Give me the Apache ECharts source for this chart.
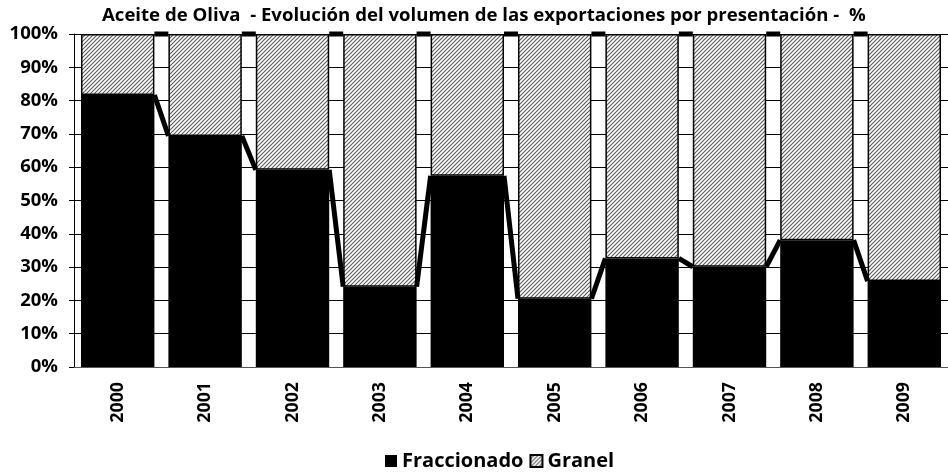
<!DOCTYPE html>
<html>
<head>
<meta charset="utf-8">
<script src="https://cdn.jsdelivr.net/npm/echarts@6/dist/echarts.min.js"></script>
<style>
  html, body { margin: 0; padding: 0; background: #fff; }
  #chart { width: 948px; height: 472px; }
</style>
</head>
<body>
<div id="chart"></div>
<script>
  // datos (% del volumen exportado)
  var years = ['2000', '2001', '2002', '2003', '2004', '2005', '2006', '2007', '2008', '2009']
  var fraccionado = [81.7, 69.4, 59.2, 24.1, 57.4, 20.5, 32.6, 30.1, 38.1, 25.8]
  var granel = [18.3, 30.6, 40.8, 75.9, 42.6, 79.5, 67.4, 69.9, 61.9, 74.2]

  var FONT = '"Open Sans", Lato, sans-serif'
  var BAR_FRAC = 0.84 // ancho de barra / ancho de categoria

  // trama rayada para Granel
  function hatch() {
    var s = 4
    var c = document.createElement('canvas')
    c.width = s
    c.height = s
    var ctx = c.getContext('2d')
    ctx.fillStyle = '#fff'
    ctx.fillRect(0, 0, s, s)
    ctx.strokeStyle = '#5a5a5a'
    ctx.lineWidth = 1.1
    ctx.beginPath()
    ctx.moveTo(0, s); ctx.lineTo(s, 0)
    ctx.moveTo(-1, 1); ctx.lineTo(1, -1)
    ctx.moveTo(s - 1, s + 1); ctx.lineTo(s + 1, s - 1)
    ctx.stroke()
    return c
  }

  // lineas de serie entre barras consecutivas
  function seriesLines(tops) {
    var out = []
    for (var i = 0; i < tops.length - 1; i++) {
      out.push([years[i], tops[i], tops[i + 1]])
    }
    return out
  }
  var totals = fraccionado.map(function (v, i) { return v + granel[i] })

  function renderLine(params, api) {
    var idx = api.value(0)
    var p1 = api.coord([idx, api.value(1)])
    var p2 = api.coord([idx + 1, api.value(2)])
    var half = api.size([1, 0])[0] * BAR_FRAC / 2
    return {
      type: 'line',
      shape: { x1: p1[0] + half, y1: p1[1], x2: p2[0] - half, y2: p2[1] },
      style: { stroke: '#000', lineWidth: 5 }
    }
  }

  var myChart = echarts.init(document.getElementById('chart'))
  var option = {
    animation: false,
    title: {
      text: 'Aceite de Oliva  - Evolución del volumen de las exportaciones por presentación -  %',
      left: 97,
      top: 1,
      textStyle: { fontFamily: FONT, fontSize: 18.6, fontWeight: 'bold', color: '#000' }
    },
    legend: {
      left: 380,
      top: 446,
      itemWidth: 12,
      itemHeight: 12,
      itemGap: 6,
      icon: 'rect',
      data: ['Fraccionado', 'Granel'],
      textStyle: { fontFamily: FONT, fontSize: 20, fontWeight: 'bold', color: '#000' }
    },
    grid: {
      left: 74,
      top: 34,
      width: 880,
      height: 333
    },
    xAxis: {
      type: 'category',
      data: years,
      axisLine: { lineStyle: { color: '#555', width: 1 } },
      axisTick: { length: 5, lineStyle: { color: '#000' } },
      axisLabel: {
        rotate: 90,
        margin: 15,
        fontFamily: FONT,
        fontSize: 17.8,
        fontWeight: 'bold',
        color: '#000'
      }
    },
    yAxis: {
      type: 'value',
      min: 0,
      max: 100,
      interval: 10,
      axisLine: { show: true, lineStyle: { color: '#000', width: 1 } },
      axisTick: { show: true, length: 5, lineStyle: { color: '#000' } },
      splitLine: { lineStyle: { color: '#000', width: 1 } },
      axisLabel: {
        formatter: '{value}%',
        margin: 16,
        fontFamily: FONT,
        fontSize: 18.5,
        fontWeight: 'bold',
        color: '#000'
      }
    },
    series: [
      {
        name: 'Fraccionado',
        type: 'bar',
        stack: 'total',
        barCategoryGap: '16%',
        itemStyle: { color: '#000' },
        data: fraccionado
      },
      {
        name: 'Granel',
        type: 'bar',
        stack: 'total',
        barCategoryGap: '16%',
        itemStyle: { color: { image: hatch(), repeat: 'repeat' }, borderColor: '#000', borderWidth: 1.5 },
        data: granel
      },
      {
        type: 'custom',
        z: 5,
        renderItem: renderLine,
        encode: { x: 0, y: [1, 2] },
        data: seriesLines(fraccionado)
      },
      {
        type: 'custom',
        z: 5,
        renderItem: renderLine,
        encode: { x: 0, y: [1, 2] },
        data: seriesLines(totals)
      }
    ]
  }
  myChart.setOption(option)
</script>
</body>
</html>
